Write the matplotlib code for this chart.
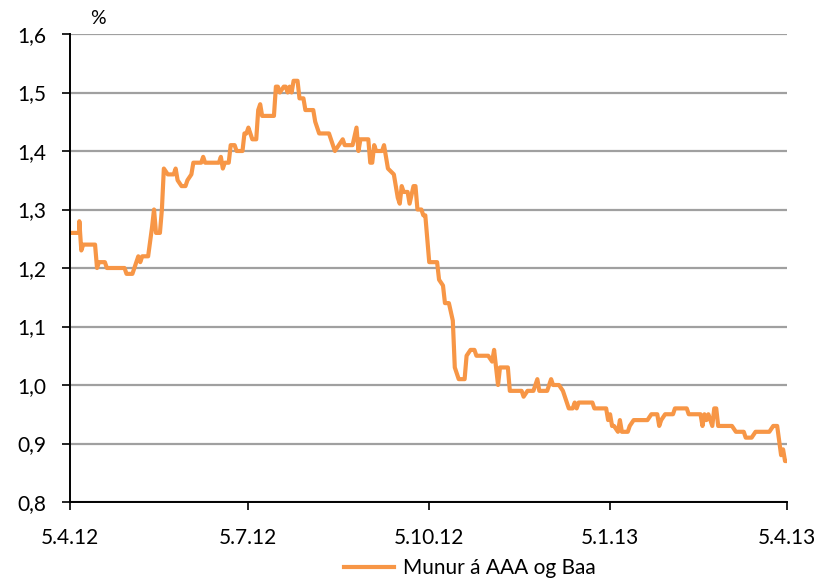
import datetime as dt
import matplotlib
matplotlib.use("Agg")
import matplotlib.pyplot as plt
import matplotlib.dates as mdates
from matplotlib.ticker import FixedLocator, FuncFormatter

# ---- data ----
start_date = dt.date(2012, 4, 5)
day_offsets = [0, 5, 5, 6, 7, 13, 14, 15, 18, 19, 28, 29, 32, 34, 35, 36, 37, 40,
               42, 43, 44, 46, 47, 48, 50, 53, 54, 55, 57, 59, 60, 62, 63, 67, 68,
               69, 76, 77, 78, 79, 81, 82, 84, 85, 88, 89, 90, 91, 93, 95, 96, 97,
               98, 104, 105, 106, 107, 109, 110, 111, 112, 113, 114, 116, 117, 118,
               119, 120, 124, 125, 126, 127, 128, 132, 134, 135, 137, 139, 140, 144,
               146, 147, 148, 152, 153, 154, 155, 156, 159, 160, 162, 165, 167, 168,
               169, 170, 172, 173, 175, 176, 177, 179, 180, 181, 183, 187, 188, 190,
               191, 193, 195, 196, 198, 201, 202, 204, 206, 207, 213, 215, 216, 218,
               219, 223, 224, 230, 231, 233, 236, 238, 239, 243, 245, 246, 249, 251,
               254, 256, 257, 258, 259, 266, 267, 273, 274, 275, 276, 277, 279, 280,
               281, 284, 285, 287, 294, 296, 299, 300, 301, 303, 307, 308, 314, 315,
               321, 322, 323, 324, 325, 327, 328, 329, 330, 337, 339, 343, 344, 347,
               349, 356, 358, 360, 362, 363, 364, 365]
spread = [1.26, 1.26, 1.28, 1.23, 1.24, 1.24, 1.20, 1.21, 1.21, 1.20, 1.20, 1.19,
          1.19, 1.21, 1.22, 1.21, 1.22, 1.22, 1.27, 1.30, 1.26, 1.26, 1.30, 1.37,
          1.36, 1.36, 1.37, 1.35, 1.34, 1.34, 1.35, 1.36, 1.38, 1.38, 1.39, 1.38,
          1.38, 1.39, 1.37, 1.38, 1.38, 1.41, 1.41, 1.40, 1.40, 1.43, 1.43, 1.44,
          1.42, 1.42, 1.47, 1.48, 1.46, 1.46, 1.51, 1.51, 1.50, 1.51, 1.51, 1.50,
          1.51, 1.50, 1.52, 1.52, 1.49, 1.49, 1.49, 1.47, 1.47, 1.45, 1.44, 1.43,
          1.43, 1.43, 1.41, 1.40, 1.41, 1.42, 1.41, 1.41, 1.44, 1.40, 1.42, 1.42,
          1.38, 1.38, 1.41, 1.40, 1.40, 1.41, 1.37, 1.36, 1.32, 1.31, 1.34, 1.33,
          1.33, 1.31, 1.34, 1.34, 1.30, 1.30, 1.29, 1.29, 1.21, 1.21, 1.18, 1.17,
          1.14, 1.14, 1.11, 1.03, 1.01, 1.01, 1.05, 1.06, 1.06, 1.05, 1.05, 1.04,
          1.06, 1.00, 1.03, 1.03, 0.99, 0.99, 0.98, 0.99, 0.99, 1.01, 0.99, 0.99,
          1.01, 1.00, 1.00, 0.99, 0.96, 0.96, 0.97, 0.96, 0.97, 0.97, 0.96, 0.96,
          0.94, 0.95, 0.93, 0.93, 0.92, 0.94, 0.92, 0.92, 0.93, 0.94, 0.94, 0.95,
          0.95, 0.93, 0.94, 0.95, 0.95, 0.96, 0.96, 0.95, 0.95, 0.93, 0.95, 0.94,
          0.95, 0.93, 0.96, 0.96, 0.93, 0.93, 0.92, 0.92, 0.91, 0.91, 0.92, 0.92,
          0.93, 0.93, 0.88, 0.89, 0.87, 0.87]
series_label = "Munur á AAA og Baa"
x_tick_dates = ["2012-04-05", "2012-07-05", "2012-10-05", "2013-01-05", "2013-04-05"]
y_ticks = [0.8, 0.9, 1.0, 1.1, 1.2, 1.3, 1.4, 1.5, 1.6]
unit_label = "%"

# ---- styling ----
plt.rcParams['font.family'] = ['Lato', 'DejaVu Sans']
FS = 15
LINE_COLOR = "#F79646"
GRID_COLOR = "#A0A0A0"

dates = [start_date + dt.timedelta(days=d) for d in day_offsets]
tick_dates = [dt.date.fromisoformat(s) for s in x_tick_dates]

fig = plt.figure(figsize=(8.2, 5.8), dpi=100)
ax = fig.add_axes([69.5 / 820, 1 - 502 / 580, (787 - 69.5) / 820, (502 - 34) / 580])

line, = ax.plot(dates, spread, color=LINE_COLOR, lw=3.0, solid_joinstyle="round",
                label=series_label, zorder=3)

ax.set_xlim(tick_dates[0], tick_dates[-1])
ax.set_ylim(y_ticks[0], y_ticks[-1])

ax.xaxis.set_major_locator(FixedLocator([mdates.date2num(d) for d in tick_dates]))
ax.xaxis.set_major_formatter(FuncFormatter(
    lambda v, p: (lambda d: f"{d.day}.{d.month}.{d:%y}")(mdates.num2date(v))))
ax.yaxis.set_major_locator(FixedLocator(y_ticks))
ax.yaxis.set_major_formatter(FuncFormatter(lambda v, p: f"{v:.1f}".replace(".", ",")))

ax.grid(axis="y", color=GRID_COLOR, lw=1.6, zorder=0)
ax.set_axisbelow(True)
for s in ["top", "right"]:
    ax.spines[s].set_visible(False)
for s in ["left", "bottom"]:
    ax.spines[s].set_color("black")
    ax.spines[s].set_linewidth(1.4)
    ax.spines[s].set_zorder(4)

ax.tick_params(axis="y", direction="out", length=6, width=1.2, pad=11, labelsize=FS)
ax.tick_params(axis="x", direction="out", length=6, width=1.2, pad=13, labelsize=FS)

fig.text(98 / 820, 1 - 19 / 580, unit_label, fontsize=14, ha="center", va="center")

fig.legend(handles=[line], loc="center", bbox_to_anchor=(470 / 820, 1 - 568 / 580),
           frameon=False, fontsize=FS, handlelength=2.4, handletextpad=0.4,
           borderpad=0)

fig.savefig("out.png", dpi=100)
